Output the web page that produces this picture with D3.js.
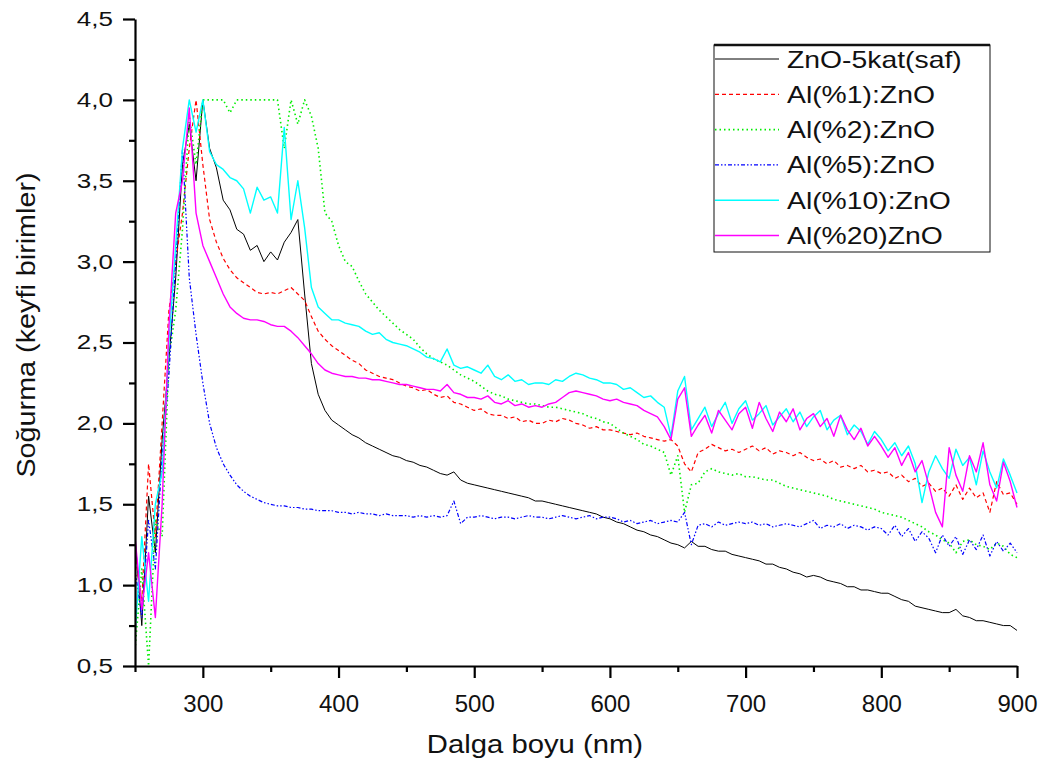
<!DOCTYPE html>
<html>
<head>
<meta charset="utf-8">
<script src="https://cdn.jsdelivr.net/npm/d3@7"></script>
<style>
  body { margin: 0; background: #fff; }
  text { font-family: "Liberation Sans", Arial, sans-serif; fill: #111; }
</style>
</head>
<body>
<div id="chart"></div>
<script>
// wavelength grid (nm), 5 nm steps
const wavelengths = [
  250,255,260,265,270,275,280,285,290,295,
  300,305,310,315,320,325,330,335,340,345,
  350,355,360,365,370,375,380,385,390,395,
  400,405,410,415,420,425,430,435,440,445,
  450,455,460,465,470,475,480,485,490,495,
  500,505,510,515,520,525,530,535,540,545,
  550,555,560,565,570,575,580,585,590,595,
  600,605,610,615,620,625,630,635,640,645,
  650,655,660,665,670,675,680,685,690,695,
  700,705,710,715,720,725,730,735,740,745,
  750,755,760,765,770,775,780,785,790,795,
  800,805,810,815,820,825,830,835,840,845,
  850,855,860,865,870,875,880,885,890,895,
  900];

const znoPure = [
  1.30,0.75,1.55,1.20,1.90,2.40,2.90,3.60,3.85,3.50,
  4.00,3.70,3.58,3.38,3.32,3.20,3.17,3.07,3.10,3.00,
  3.06,3.01,3.12,3.18,3.26,2.80,2.37,2.18,2.08,2.02,
  1.99,1.96,1.93,1.91,1.88,1.86,1.84,1.82,1.80,1.79,
  1.77,1.76,1.74,1.73,1.71,1.69,1.68,1.70,1.65,1.63,
  1.62,1.61,1.60,1.59,1.58,1.57,1.56,1.55,1.54,1.52,
  1.52,1.51,1.50,1.49,1.48,1.47,1.46,1.45,1.44,1.42,
  1.41,1.39,1.38,1.36,1.34,1.33,1.31,1.30,1.28,1.26,
  1.25,1.23,1.27,1.24,1.24,1.22,1.21,1.21,1.19,1.18,
  1.17,1.16,1.15,1.13,1.13,1.11,1.10,1.08,1.07,1.05,
  1.06,1.05,1.03,1.02,1.01,0.99,0.99,0.97,0.97,0.96,
  0.95,0.95,0.93,0.91,0.90,0.87,0.86,0.85,0.84,0.83,
  0.83,0.85,0.81,0.80,0.78,0.78,0.77,0.76,0.75,0.75,
  0.72];

const al1 = [
  1.20,0.90,1.75,1.30,2.00,2.70,3.00,3.30,3.70,4.00,
  3.60,3.26,3.12,3.02,2.95,2.90,2.87,2.84,2.81,2.80,
  2.81,2.80,2.82,2.84,2.80,2.76,2.66,2.57,2.52,2.48,
  2.45,2.42,2.39,2.37,2.33,2.31,2.29,2.28,2.27,2.25,
  2.23,2.22,2.20,2.21,2.18,2.16,2.17,2.13,2.12,2.10,
  2.08,2.09,2.06,2.05,2.05,2.03,2.04,2.01,2.02,2.00,
  2.00,2.02,2.01,2.03,2.02,2.00,1.99,1.97,1.98,1.96,
  1.96,1.95,1.94,1.93,1.94,1.92,1.91,1.90,1.89,1.90,
  1.86,1.75,1.70,1.82,1.84,1.87,1.85,1.83,1.84,1.82,
  1.84,1.86,1.83,1.85,1.81,1.83,1.82,1.80,1.82,1.79,
  1.77,1.78,1.75,1.77,1.73,1.74,1.72,1.74,1.70,1.71,
  1.69,1.70,1.66,1.68,1.64,1.66,1.61,1.63,1.58,1.60,
  1.55,1.62,1.53,1.60,1.54,1.57,1.45,1.64,1.56,1.57,
  1.50];

const al2 = [
  0.60,1.10,0.50,1.40,1.30,2.40,2.70,3.20,3.90,3.60,
  4.00,4.00,4.00,4.00,3.92,4.00,4.00,4.00,4.00,4.00,
  4.00,4.00,3.70,4.00,3.85,4.00,3.90,3.70,3.30,3.25,
  3.10,3.00,2.97,2.88,2.80,2.75,2.70,2.66,2.62,2.58,
  2.55,2.52,2.47,2.43,2.40,2.38,2.36,2.33,2.30,2.28,
  2.26,2.23,2.20,2.18,2.17,2.15,2.14,2.13,2.12,2.12,
  2.11,2.10,2.10,2.09,2.08,2.07,2.06,2.04,2.03,2.01,
  2.00,1.97,1.94,1.92,1.90,1.87,1.86,1.84,1.82,1.68,
  1.80,1.45,1.62,1.63,1.70,1.72,1.70,1.69,1.68,1.69,
  1.67,1.67,1.66,1.65,1.65,1.63,1.61,1.60,1.59,1.58,
  1.57,1.56,1.55,1.53,1.52,1.51,1.50,1.49,1.48,1.47,
  1.45,1.44,1.43,1.42,1.40,1.38,1.36,1.33,1.31,1.28,
  1.26,1.20,1.27,1.28,1.25,1.24,1.22,1.26,1.24,1.19,
  1.17];

const al5 = [
  1.10,0.80,1.40,1.10,1.80,2.30,3.00,3.70,2.90,2.55,
  2.25,2.00,1.85,1.75,1.68,1.62,1.58,1.55,1.53,1.51,
  1.50,1.49,1.49,1.48,1.48,1.47,1.47,1.46,1.46,1.46,
  1.45,1.45,1.44,1.45,1.44,1.44,1.43,1.44,1.43,1.43,
  1.43,1.42,1.43,1.42,1.43,1.42,1.43,1.52,1.38,1.42,
  1.42,1.43,1.42,1.41,1.42,1.42,1.41,1.42,1.43,1.42,
  1.42,1.41,1.42,1.43,1.42,1.41,1.42,1.43,1.41,1.42,
  1.42,1.41,1.39,1.40,1.38,1.39,1.40,1.38,1.39,1.40,
  1.39,1.45,1.25,1.37,1.38,1.36,1.39,1.37,1.38,1.39,
  1.38,1.39,1.37,1.38,1.36,1.37,1.38,1.37,1.36,1.38,
  1.40,1.35,1.37,1.36,1.38,1.35,1.37,1.36,1.34,1.36,
  1.35,1.31,1.37,1.30,1.35,1.27,1.33,1.29,1.20,1.31,
  1.24,1.30,1.19,1.28,1.22,1.31,1.18,1.27,1.21,1.26,
  1.20];

const al10 = [
  0.70,1.30,0.90,1.50,1.70,2.50,3.10,3.70,4.00,3.80,
  4.00,3.68,3.60,3.57,3.52,3.50,3.45,3.30,3.46,3.38,
  3.40,3.30,3.83,3.26,3.50,3.21,2.84,2.72,2.68,2.64,
  2.64,2.62,2.61,2.60,2.57,2.55,2.56,2.52,2.50,2.49,
  2.48,2.46,2.44,2.41,2.40,2.38,2.46,2.36,2.34,2.35,
  2.33,2.31,2.36,2.29,2.27,2.30,2.26,2.27,2.24,2.25,
  2.25,2.24,2.27,2.26,2.29,2.31,2.30,2.28,2.27,2.25,
  2.25,2.24,2.21,2.22,2.19,2.16,2.17,2.13,2.10,1.92,
  2.20,2.29,1.96,2.03,2.10,1.98,2.06,2.13,2.00,2.09,
  2.14,2.02,2.06,2.11,1.99,2.04,2.09,2.01,2.07,1.98,
  2.04,2.08,1.96,2.02,2.05,1.93,1.99,1.95,1.87,1.95,
  1.90,1.83,1.88,1.80,1.86,1.75,1.51,1.70,1.80,1.72,
  1.66,1.84,1.74,1.79,1.62,1.83,1.70,1.60,1.78,1.68,
  1.57];

const al20 = [
  1.30,0.85,1.20,0.80,1.50,2.60,3.30,3.50,3.95,3.30,
  3.10,3.00,2.90,2.80,2.72,2.68,2.65,2.64,2.64,2.63,
  2.61,2.60,2.60,2.57,2.53,2.48,2.43,2.37,2.33,2.31,
  2.30,2.29,2.29,2.28,2.28,2.27,2.27,2.26,2.25,2.24,
  2.24,2.23,2.22,2.21,2.21,2.20,2.24,2.19,2.18,2.16,
  2.16,2.15,2.17,2.13,2.12,2.14,2.11,2.12,2.10,2.11,
  2.10,2.12,2.13,2.16,2.19,2.20,2.19,2.18,2.17,2.15,
  2.14,2.15,2.13,2.12,2.11,2.08,2.06,2.04,1.98,1.90,
  2.15,2.22,1.92,1.99,2.05,1.94,2.08,2.02,1.96,2.06,
  2.10,1.97,2.13,2.03,1.95,2.07,2.01,2.09,1.96,2.03,
  2.06,1.98,2.03,1.92,2.05,1.96,1.90,1.97,1.86,1.92,
  1.86,1.79,1.85,1.74,1.82,1.70,1.77,1.62,1.45,1.36,
  1.85,1.68,1.58,1.80,1.70,1.88,1.62,1.52,1.76,1.64,
  1.48];

const seriesNames = ["ZnO-5kat(saf)", "Al(%1):ZnO", "Al(%2):ZnO", "Al(%5):ZnO", "Al(%10):ZnO", "Al(%20)ZnO"];
const seriesValues = [znoPure, al1, al2, al5, al10, al20];
const seriesColors = ["#000000", "#ff0000", "#00ee00", "#0000ff", "#00ffff", "#ff00ff"];
const seriesDash = [null, "4,3", "1.5,3", "4,2,1.5,2,1.5,2", null, null];
const seriesWidth = [1, 1.2, 1.6, 1.2, 1.4, 1.4];

const xMajor = [300, 400, 500, 600, 700, 800, 900];
const xMinor = [250, 350, 450, 550, 650, 750, 850];
const yMajor = [0.5, 1.0, 1.5, 2.0, 2.5, 3.0, 3.5, 4.0, 4.5];
const yMinor = [0.75, 1.25, 1.75, 2.25, 2.75, 3.25, 3.75, 4.25];

const W = 1042, H = 769;
const margin = {top: 19, right: 25, bottom: 103, left: 135};
const width = W - margin.left - margin.right,
      height = H - margin.top - margin.bottom;

const svg = d3.select("#chart").append("svg")
    .attr("width", W)
    .attr("height", H);

const chart = svg.append("g")
    .attr("transform", "translate(" + margin.left + "," + margin.top + ")");

const x = d3.scaleLinear().domain([250, 900]).range([0, width]);
const y = d3.scaleLinear().domain([0.5, 4.5]).range([height, 0]);

// stretch text horizontally like the original figure
function stretch(sel, k) {
  sel.each(function() {
    const w = this.getComputedTextLength();
    d3.select(this).attr("textLength", w * k).attr("lengthAdjust", "spacingAndGlyphs");
  });
}

chart.append("clipPath").attr("id", "plotclip")
  .append("rect").attr("x", 0).attr("y", -2).attr("width", width + 2).attr("height", height + 2);

// lines
const line = d3.line()
    .x((d, i) => x(wavelengths[i]))
    .y(d => y(d));

chart.append("g").attr("clip-path", "url(#plotclip)")
  .selectAll("path")
  .data(seriesValues)
  .enter().append("path")
    .attr("d", d => line(d))
    .attr("fill", "none")
    .attr("stroke", (d, i) => seriesColors[i])
    .attr("stroke-width", (d, i) => seriesWidth[i])
    .attr("stroke-dasharray", (d, i) => seriesDash[i])
    .attr("stroke-linejoin", "round");

// axes
const fmt = d => d.toFixed(1).replace(".", ",");

const yAxis = chart.append("g")
    .call(d3.axisLeft(y).tickValues(yMajor).tickSize(12).tickSizeOuter(0).tickFormat(fmt));
chart.append("g")
    .call(d3.axisLeft(y).tickValues(yMinor).tickSize(6).tickSizeOuter(0).tickFormat(""))
    .select(".domain").remove();

const xAxis = chart.append("g")
    .attr("transform", "translate(0," + height + ")")
    .call(d3.axisBottom(x).tickValues(xMajor).tickSize(12).tickSizeOuter(0));
chart.append("g")
    .attr("transform", "translate(0," + height + ")")
    .call(d3.axisBottom(x).tickValues(xMinor).tickSize(6).tickSizeOuter(0).tickFormat(""))
    .select(".domain").remove();

chart.selectAll(".domain").attr("stroke", "#000").attr("stroke-width", 2.2);
chart.selectAll(".tick line").attr("stroke", "#000").attr("stroke-width", 2.2);

yAxis.selectAll("text")
    .attr("x", -22)
    .style("font-size", "20px")
    .call(stretch, 1.3);

xAxis.selectAll("text")
    .attr("y", 29)
    .style("font-size", "24px");

// axis titles
svg.append("text")
    .attr("x", 535)
    .attr("y", 753)
    .attr("text-anchor", "middle")
    .style("font-size", "25px")
    .text("Dalga boyu (nm)")
    .call(stretch, 1.17);

svg.append("text")
    .attr("transform", "translate(35,325) rotate(-90)")
    .attr("text-anchor", "middle")
    .style("font-size", "25px")
    .text("Soğurma (keyfi birimler)")
    .call(stretch, 1.15);

// legend
const legend = svg.append("g").attr("transform", "translate(714,45)");
legend.append("rect")
    .attr("width", 276).attr("height", 207)
    .attr("fill", "#fff").attr("stroke", "#111").attr("stroke-width", 1);
legend.append("line")
    .attr("x1", 0).attr("x2", 276).attr("y1", 0).attr("y2", 0)
    .attr("stroke", "#111").attr("stroke-width", 2.5);

const rows = legend.selectAll(".row")
  .data(seriesNames)
  .enter().append("g")
    .attr("class", "row")
    .attr("transform", (d, i) => "translate(0," + (14 + i * 35.3) + ")");

rows.append("line")
    .attr("x1", 1).attr("x2", 65)
    .attr("stroke", (d, i) => seriesColors[i])
    .attr("stroke-width", (d, i) => seriesWidth[i])
    .attr("stroke-dasharray", (d, i) => seriesDash[i]);

rows.append("text")
    .attr("x", 73)
    .attr("y", 8.5)
    .style("font-size", "24px")
    .text(d => d)
    .call(stretch, 1.18);
</script>
</body>
</html>
